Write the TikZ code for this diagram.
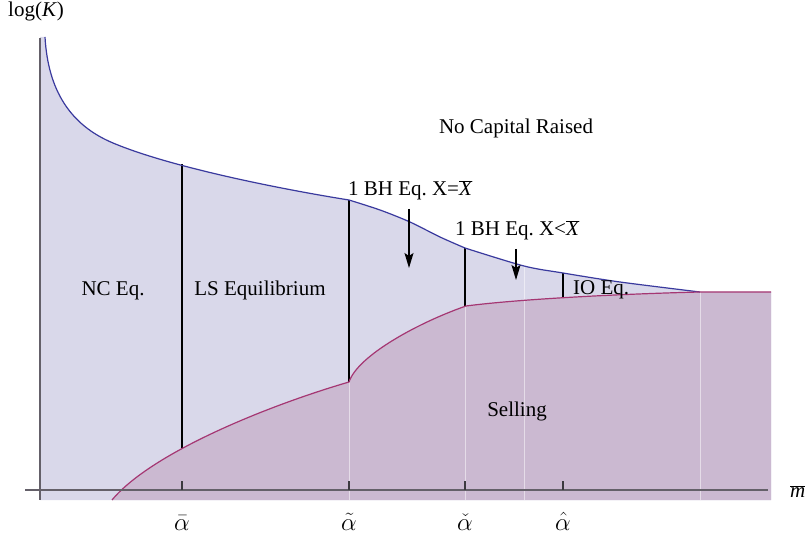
\documentclass[tikz,border=0pt]{standalone}
\usepackage{fontspec}
\setmainfont{Liberation Serif}
\usetikzlibrary{arrows.meta}
\definecolor{bluefill}{RGB}{217,216,234}
\definecolor{purplefill}{RGB}{203,185,209}
\definecolor{bluecurve}{RGB}{58,58,158}
\definecolor{purplecurve}{RGB}{165,55,115}
\definecolor{axisgray}{RGB}{100,96,105}
\frenchspacing
\begin{document}
\begin{tikzpicture}[x=1pt,y=-1pt,
  txt/.style={font=\fontsize{21}{25}\selectfont, inner sep=0pt},
  ticklab/.style={font=\fontsize{25}{30}\selectfont, inner sep=0pt},
  divline/.style={black, line width=1.1pt},
  meshline/.style={white, opacity=0.5, line width=1pt},
  axisline/.style={axisgray, line width=1.6pt},
  tickline/.style={axisgray!60!black, line width=1.2pt},
  downarrow/.style={black, line width=1.2pt, -{Stealth[length=15pt,width=9pt,inset=3pt]}}]
\useasboundingbox (0,0) rectangle (809,537);
% regions
\fill[bluefill] (40,500) -- (40,37) -- (45,37)
  .. controls (48,90) and (70,125) .. (113,143)
  .. controls (170,167) and (280,189) .. (349,200)
  -- plot[smooth] coordinates {(349,200) (380,210) (410,222) (440,237) (465,248)}
  -- plot[smooth] coordinates {(465,248) (524,266) (563,273) (620,282) (700,292)}
  -- (771,292) -- (771,500) -- cycle;
\fill[purplefill] (112,500)
  .. controls (152,452) and (270,405) .. (349,382)
  .. controls (358,355) and (420,322) .. (466,306)
  .. controls (520,299) and (620,294) .. (700,292)
  -- (771,292) -- (771,500) -- cycle;
% mesh lines
\coordinate (m1t) at (349,382); \coordinate (m1b) at (349,500);
\coordinate (m2t) at (465,306); \coordinate (m2b) at (465,500);
\coordinate (m3t) at (524,266); \coordinate (m3b) at (524,500);
\coordinate (m4t) at (700,292); \coordinate (m4b) at (700,500);
\draw[meshline] (m1t) -- (m1b);
\draw[meshline] (m2t) -- (m2b);
\draw[meshline] (m3t) -- (m3b);
\draw[meshline] (m4t) -- (m4b);
% boundaries
\coordinate (d1t) at (182,164); \coordinate (d1b) at (182,448);
\coordinate (d2t) at (349,200); \coordinate (d2b) at (349,382);
\coordinate (d3t) at (465,248); \coordinate (d3b) at (465,306);
\coordinate (d4t) at (563,273); \coordinate (d4b) at (563,297);
\draw[divline] (d1t) -- (d1b);
\draw[divline] (d2t) -- (d2b);
\draw[divline] (d3t) -- (d3b);
\draw[divline] (d4t) -- (d4b);
% curves
\draw[bluecurve, line width=1.2pt] (45,37)
  .. controls (48,90) and (70,125) .. (113,143)
  .. controls (170,167) and (280,189) .. (349,200)
  -- plot[smooth] coordinates {(349,200) (380,210) (410,222) (440,237) (465,248)}
  -- plot[smooth] coordinates {(465,248) (524,266) (563,273) (620,282) (700,292)};
\draw[purplecurve, line width=1.2pt] (112,500)
  .. controls (152,452) and (270,405) .. (349,382)
  .. controls (358,355) and (420,322) .. (466,306)
  .. controls (520,299) and (620,294) .. (700,292)
  -- (771,292);
% axes
\coordinate (xa0) at (25,490); \coordinate (xa1) at (768,490);
\coordinate (ya0) at (40,38); \coordinate (ya1) at (40,500);
\draw[axisline] (xa0) -- (xa1);
\draw[axisline] (ya0) -- (ya1);
% ticks
\foreach \tx/\nm in {182/t1, 349/t2, 465/t3, 563/t4} {
  \coordinate (\nm a) at (\tx,481); \coordinate (\nm b) at (\tx,490);
  \draw[tickline] (\nm a) -- (\nm b);
}
\node[ticklab, anchor=base] (l1) at (182,530) {$\bar{\alpha}$};
\node[ticklab, anchor=base] (l2) at (349,530) {$\tilde{\alpha}$};
\node[ticklab, anchor=base] (l3) at (465,530) {$\check{\alpha}$};
\node[ticklab, anchor=base] (l4) at (563,530) {$\hat{\alpha}$};
% axis labels
\node[txt, anchor=base west] (ylab) at (8,17) {log(\textit{K})};
\node[txt, anchor=base west] (xlab) at (790,497) {$\overline{\mbox{\itshape m}}$};
% region labels
\node[txt, anchor=base] (nocap) at (516,134) {No Capital Raised};
\node[txt, anchor=base] (nc) at (113,296) {NC Eq.};
\node[txt, anchor=base] (ls) at (260,296) {LS Equilibrium};
\node[txt, anchor=base] (bh1) at (410,196) {1 BH Eq. X=$\overline{\mbox{\itshape X}}$};
\node[txt, anchor=base] (bh2) at (517,236) {1 BH Eq. X<$\overline{\mbox{\itshape X}}$};
\node[txt, anchor=base west] (io) at (573,295) {IO Eq.};
\node[txt, anchor=base] (sell) at (517,417) {Selling};
% arrows
\coordinate (a1s) at (409,209); \coordinate (a1e) at (409,268);
\coordinate (a2s) at (516,249); \coordinate (a2e) at (516,280);
\draw[downarrow] (a1s) -- (a1e);
\draw[downarrow] (a2s) -- (a2e);
\end{tikzpicture}
\end{document}
